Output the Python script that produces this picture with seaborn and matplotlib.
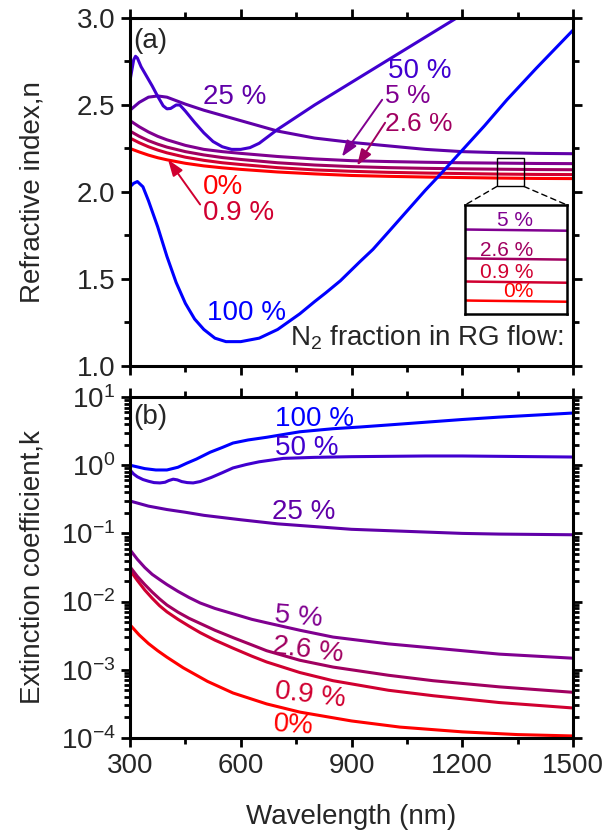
import numpy as np
import pandas as pd
import matplotlib
matplotlib.use("Agg")
import matplotlib.pyplot as plt
import seaborn as sns
from matplotlib.patches import Rectangle, ConnectionPatch
from matplotlib.ticker import MultipleLocator, FormatStrFormatter

# ---------------- data ----------------
fractions = ["0%", "0.9 %", "2.6 %", "5 %", "25 %", "50 %", "100 %"]
colors = ["#FF0000", "#D00030", "#A00060", "#800090", "#6000A8", "#4000D0", "#0000FF"]

# refractive index n(lambda)
wl_n_smooth = [300, 325, 350, 375, 400, 450, 500, 550, 600, 700, 800, 900, 1000, 1100, 1200, 1300, 1400, 1500]
n_0 = [2.25, 2.23, 2.212, 2.197, 2.185, 2.165, 2.15, 2.139, 2.13, 2.115, 2.104, 2.095, 2.09, 2.086, 2.083, 2.08, 2.078, 2.077]
n_09 = [2.31, 2.283, 2.26, 2.241, 2.225, 2.2, 2.182, 2.168, 2.158, 2.14, 2.127, 2.119, 2.113, 2.109, 2.106, 2.103, 2.101, 2.10]
n_26 = [2.35, 2.32, 2.295, 2.275, 2.258, 2.232, 2.213, 2.198, 2.187, 2.168, 2.155, 2.146, 2.14, 2.136, 2.133, 2.131, 2.129, 2.128]
n_5 = [2.41, 2.375, 2.345, 2.32, 2.30, 2.268, 2.245, 2.232, 2.222, 2.204, 2.19, 2.18, 2.175, 2.171, 2.168, 2.166, 2.164, 2.163]
n_25 = [2.47, 2.515, 2.545, 2.552, 2.545, 2.505, 2.47, 2.44, 2.41, 2.35, 2.31, 2.285, 2.265, 2.245, 2.232, 2.226, 2.222, 2.22]
wl_n_50 = [300, 305, 310, 315, 320, 330, 345, 360, 375, 390, 400, 410, 425, 435, 450, 475, 500, 525, 550,
           575, 600, 625, 650, 700, 800, 900, 1000, 1100, 1200]
n_50 = [2.64, 2.70, 2.76, 2.78, 2.77, 2.72, 2.665, 2.61, 2.55, 2.495, 2.478, 2.48, 2.50, 2.50, 2.465, 2.40, 2.34,
        2.29, 2.26, 2.245, 2.245, 2.255, 2.28, 2.36, 2.50, 2.63, 2.76, 2.89, 3.02]
wl_n_100 = [300, 310, 320, 335, 350, 375, 400, 425, 450, 475, 500, 530, 560, 600, 650, 700, 760, 800, 830,
            870, 923, 958, 1000, 1050, 1100, 1140, 1200, 1260, 1321, 1400, 1500]
n_100 = [2.03, 2.05, 2.06, 2.03, 1.95, 1.80, 1.63, 1.48, 1.36, 1.27, 1.21, 1.16, 1.14, 1.14, 1.16, 1.21, 1.30,
         1.37, 1.42, 1.49, 1.60, 1.67, 1.77, 1.89, 2.01, 2.10, 2.24, 2.38, 2.53, 2.71, 2.93]

# extinction coefficient, stored as log10(k)
wl_k_low = [300, 320, 340, 360, 380, 400, 430, 460, 490, 530, 580, 630, 670, 760, 850, 1000, 1121, 1300, 1500]
logk_09 = [-1.54, -1.69, -1.83, -1.95, -2.06, -2.15, -2.26, -2.36, -2.455, -2.565, -2.685, -2.8, -2.885,
           -3.04, -3.16, -3.3, -3.38, -3.48, -3.56]
logk_26 = [-1.49, -1.63, -1.75, -1.86, -1.96, -2.05, -2.155, -2.245, -2.32, -2.42, -2.53, -2.635, -2.72,
           -2.86, -2.96, -3.08, -3.16, -3.25, -3.33]
wl_k_5 = [300, 320, 340, 360, 381, 400, 430, 460, 490, 530, 580, 630, 670, 760, 850, 1000, 1121, 1300, 1500]
logk_5 = [-1.24, -1.38, -1.5, -1.6, -1.68, -1.75, -1.85, -1.94, -2.02, -2.1, -2.18, -2.26, -2.31, -2.42,
          -2.52, -2.62, -2.68, -2.77, -2.83]
wl_k_0 = [300, 325, 350, 375, 400, 444, 510, 579, 670, 760, 900, 1031, 1200, 1350, 1500]
logk_0 = [-2.34, -2.49, -2.615, -2.72, -2.815, -2.97, -3.17, -3.34, -3.5, -3.62, -3.75, -3.84, -3.91, -3.95, -3.97]
wl_k_25 = [300, 350, 400, 450, 500, 600, 700, 800, 900, 1000, 1100, 1200, 1300, 1400, 1500]
logk_25 = [-0.525, -0.6, -0.65, -0.69, -0.735, -0.8, -0.86, -0.9, -0.94, -0.96, -0.98, -1.0, -1.01, -1.015, -1.02]
wl_k_50 = [300, 310, 320, 335, 350, 365, 381, 395, 405, 417, 428, 440, 455, 471, 490, 520, 550, 579, 615,
           650, 715, 800, 900, 1000, 1100, 1200, 1300, 1400, 1500]
logk_50 = [-0.07, -0.13, -0.17, -0.21, -0.235, -0.255, -0.26, -0.25, -0.225, -0.205, -0.215, -0.24, -0.255,
           -0.26, -0.24, -0.18, -0.11, -0.04, 0.01, 0.05, 0.10, 0.115, 0.125, 0.13, 0.135, 0.135, 0.13, 0.125, 0.12]
wl_k_100 = [300, 340, 370, 400, 430, 454, 480, 517, 550, 579, 620, 671, 760, 850, 923, 1000, 1100, 1200,
            1300, 1400, 1500]
logk_100 = [0.0, -0.05, -0.07, -0.07, -0.03, 0.03, 0.09, 0.19, 0.26, 0.325, 0.37, 0.41, 0.49, 0.535, 0.56,
            0.59, 0.63, 0.67, 0.705, 0.735, 0.765]

n_series = {
    "0%": (wl_n_smooth, n_0), "0.9 %": (wl_n_smooth, n_09), "2.6 %": (wl_n_smooth, n_26),
    "5 %": (wl_n_smooth, n_5), "25 %": (wl_n_smooth, n_25), "50 %": (wl_n_50, n_50),
    "100 %": (wl_n_100, n_100),
}
k_series = {
    "0%": (wl_k_0, logk_0), "0.9 %": (wl_k_low, logk_09), "2.6 %": (wl_k_low, logk_26),
    "5 %": (wl_k_5, logk_5), "25 %": (wl_k_25, logk_25), "50 %": (wl_k_50, logk_50),
    "100 %": (wl_k_100, logk_100),
}

df_n = pd.concat([pd.DataFrame({"wl": w, "n": v, "frac": f}) for f, (w, v) in n_series.items()])
df_k = pd.concat([pd.DataFrame({"wl": w, "k": 10.0 ** np.asarray(v), "frac": f}) for f, (w, v) in k_series.items()])
palette = dict(zip(fractions, colors))

# ---------------- style ----------------
sns.set_theme(style="ticks")
plt.rcParams["font.family"] = ["Liberation Sans", "DejaVu Sans"]
plt.rcParams["mathtext.fontset"] = "custom"
plt.rcParams["mathtext.rm"] = "Liberation Sans"
plt.rcParams["mathtext.it"] = "Liberation Sans:italic"
plt.rcParams["mathtext.default"] = "regular"

FS = 20
LW = 2.2

fig = plt.figure(figsize=(6.08, 8.4), dpi=100)
ax_n = fig.add_axes([130 / 608, 1 - 366 / 840, 443 / 608, 348 / 840])
ax_k = fig.add_axes([130 / 608, 1 - 738 / 840, 443 / 608, 341 / 840])

sns.lineplot(data=df_n, x="wl", y="n", hue="frac", hue_order=fractions, palette=palette,
             estimator=None, lw=LW, legend=False, ax=ax_n)
sns.lineplot(data=df_k, x="wl", y="k", hue="frac", hue_order=fractions, palette=palette,
             estimator=None, lw=LW, legend=False, ax=ax_k)

for ax in (ax_n, ax_k):
    ax.set_xlim(300, 1500)
    ax.xaxis.set_major_locator(MultipleLocator(300))
    ax.xaxis.set_minor_locator(MultipleLocator(150))
    ax.tick_params(which="both", direction="out", top=True, right=True, width=2.0,
                   color="black", labelsize=FS, pad=4)
    ax.tick_params(which="major", length=6.5)
    ax.tick_params(which="minor", length=4)
    for s in ax.spines.values():
        s.set_linewidth(LW)
        s.set_color("black")

ax_n.set_ylim(1.0, 3.0)
ax_n.yaxis.set_major_locator(MultipleLocator(0.5))
ax_n.yaxis.set_minor_locator(MultipleLocator(0.25))
ax_n.yaxis.set_major_formatter(FormatStrFormatter("%.1f"))
ax_n.tick_params(labelbottom=False)
ax_n.set_xlabel("")
ax_n.set_ylabel("Refractive index,n", fontsize=FS)
ax_n.yaxis.set_label_coords(-0.19, 0.5)

ax_k.set_yscale("log")
ax_k.set_ylim(1e-4, 10)
ax_k.set_xlabel("Wavelength (nm)", fontsize=FS)
ax_k.set_ylabel("Extinction coefficient,k", fontsize=FS)
ax_k.yaxis.set_label_coords(-0.19, 0.5)
ax_k.xaxis.set_label_coords(0.5, -0.195)

# ---------------- annotations: refractive index ----------------
c = palette
ax_n.text(308, 2.87, "(a)", fontsize=FS, ha="left", va="center")
ax_n.text(498, 2.547, "25 %", color=c["25 %"], fontsize=FS, ha="left", va="center")
ax_n.text(999, 2.696, "50 %", color=c["50 %"], fontsize=FS, ha="left", va="center")
ax_n.text(991, 2.55, "5 %", color=c["5 %"], fontsize=19, ha="left", va="center")
ax_n.text(991, 2.39, "2.6 %", color=c["2.6 %"], fontsize=19, ha="left", va="center")
ax_n.text(498, 2.026, "0%", color=c["0%"], fontsize=FS, ha="left", va="center")
ax_n.text(498, 1.877, "0.9 %", color=c["0.9 %"], fontsize=FS, ha="left", va="center")
ax_n.text(509, 1.304, "100 %", color=c["100 %"], fontsize=FS, ha="left", va="center")
ax_n.text(733, 1.115, "N$_2$ fraction in RG flow:", fontsize=FS, ha="left", va="baseline")

arrow = dict(arrowstyle="-|>,head_length=0.7,head_width=0.25", lw=1.4, mutation_scale=14,
             shrinkA=0, shrinkB=0)
ax_n.annotate("", xy=(874, 2.203), xytext=(983, 2.53), arrowprops=dict(arrow, color=c["5 %"]))
ax_n.annotate("", xy=(915, 2.152), xytext=(991, 2.398), arrowprops=dict(arrow, color=c["2.6 %"]))
ax_n.annotate("", xy=(403, 2.186), xytext=(490, 1.928), arrowprops=dict(arrow, color=c["0.9 %"]))

# zoomed view of the low-fraction curves near 1330 nm
box_x = (1294, 1367)
box_y = (2.032, 2.198)
ax_n.add_patch(Rectangle((box_x[0], box_y[0]), box_x[1] - box_x[0], box_y[1] - box_y[0],
                         fill=False, ec="black", lw=1.0, zorder=5))
ins = fig.add_axes([465 / 608, 1 - 314 / 840, 102 / 608, 109 / 840])
low = ["0%", "0.9 %", "2.6 %", "5 %"]
sns.lineplot(data=df_n[df_n["frac"].isin(low)], x="wl", y="n", hue="frac", hue_order=low,
             palette=palette, estimator=None, lw=1.8, legend=False, ax=ins)
ins.set_xlim(*box_x)
ins.set_ylim(2.0638, 2.1958)
ins.set_xticks([])
ins.set_yticks([])
ins.set_xlabel("")
ins.set_ylabel("")
for s in ins.spines.values():
    s.set_linewidth(1.8)
    s.set_color("black")
for lab, yf in [("5 %", 0.862), ("2.6 %", 0.587), ("0.9 %", 0.385), ("0%", 0.202)]:
    ins.text(0.667, yf, lab, color=c[lab], fontsize=15, ha="right", va="center", transform=ins.transAxes)
for xa, xb in [(box_x[0], 0.0), (box_x[1], 1.0)]:
    fig.add_artist(ConnectionPatch(xyA=(xa, box_y[0]), coordsA=ax_n.transData,
                                   xyB=(xb, 1.0), coordsB=ins.transAxes,
                                   ls=(0, (4, 3)), lw=1.0, color="black"))

# ---------------- annotations: extinction coefficient ----------------
def kpos(L):
    return 10.0 ** L

ax_k.text(308, kpos(0.707), "(b)", fontsize=FS, ha="left", va="center")
ax_k.text(693, kpos(0.677), "100 %", color=c["100 %"], fontsize=FS, ha="left", va="center")
ax_k.text(693, kpos(0.252), "50 %", color=c["50 %"], fontsize=FS, ha="left", va="center")
ax_k.text(685, kpos(-0.686), "25 %", color=c["25 %"], fontsize=FS, ha="left", va="center")
ax_k.text(693, kpos(-2.196), "5 %", color=c["5 %"], fontsize=FS, ha="left", va="center",
          rotation=-5, rotation_mode="anchor")
ax_k.text(687, kpos(-2.651), "2.6 %", color=c["2.6 %"], fontsize=FS, ha="left", va="center",
          rotation=-7, rotation_mode="anchor")
ax_k.text(693, kpos(-3.311), "0.9 %", color=c["0.9 %"], fontsize=FS, ha="left", va="center",
          rotation=-7, rotation_mode="anchor")
ax_k.text(687, kpos(-3.795), "0%", color=c["0%"], fontsize=FS, ha="left", va="center",
          rotation=-4, rotation_mode="anchor")

fig.savefig("out.png", dpi=100)
